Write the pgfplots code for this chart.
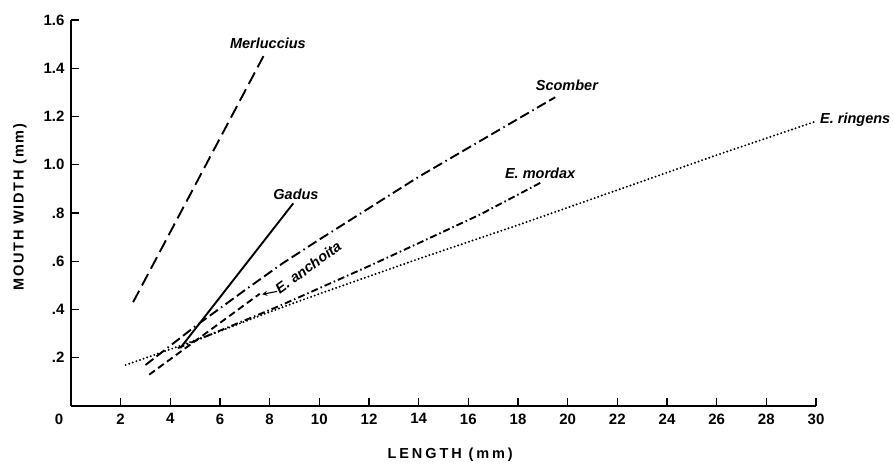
\documentclass[border=0pt]{standalone}
\usepackage{fontspec}
\setmainfont{Liberation Sans}
\newfontfamily\xlabelfont[LetterSpace=20]{Liberation Sans}
\newfontfamily\ylabelfont[LetterSpace=12]{Liberation Sans}
\usepackage{pgfplots}
\pgfplotsset{compat=1.18}
\usetikzlibrary{arrows.meta}

\newcommand\species{\fontsize{14.5}{17}\selectfont\bfseries\itshape}

\begin{document}
\begin{tikzpicture}
\useasboundingbox (-71pt,-57pt) rectangle (822pt,406pt);
\begin{axis}[
  scale only axis, width=745pt, height=386pt,
  xmin=0, xmax=30, ymin=0, ymax=1.6,
  axis lines*=left,
  axis line style={line width=1.8pt, black},
  clip=false,
  tick align=inside,
  major tick length=8pt,
  tick style={line width=1.2pt, black},
  xtick={2,4,...,30},
  xticklabels={2,4,6,8,10,12,14,16,18,20,22,24,26,28,30},
  extra x ticks={0},
  extra x tick labels={0},
  extra x tick style={major tick length=0pt, xticklabel style={xshift=-12pt}},
  ytick={0.2,0.4,0.6,0.8,1.0,1.2,1.4,1.6},
  yticklabels={.2,.4,.6,.8,1.0,1.2,1.4,1.6},
  ticklabel style={font=\fontsize{15}{17}\selectfont\bfseries},
  xticklabel style={yshift=-4pt},
  yticklabel style={xshift=-3pt},
  xlabel={LENGTH (mm)},
  ylabel={MOUTH WIDTH (mm)},
  xlabel style={at={(axis description cs:0.509,-0.127)}, anchor=center,
    font=\xlabelfont\bfseries\fontsize{14.5}{16}\selectfont},
  ylabel style={at={(axis description cs:-0.0685,0.5155)}, anchor=center,
    font=\ylabelfont\bfseries\fontsize{14.5}{16}\selectfont},
  every axis plot/.append style={black, line width=1.9pt, no marks},
]
% Merluccius
\addplot[dash pattern=on 13pt off 6pt] coordinates {(2.5,0.43) (7.75,1.45)};
% Gadus
\addplot[solid] coordinates {(4.4,0.24) (8.95,0.84)};
% Scomber
\addplot[dash pattern=on 10pt off 4pt on 10pt off 4pt on 1.5pt off 4pt] coordinates {
  (3.0,0.17) (5,0.33) (7,0.48) (8.5,0.59) (10,0.69) (12,0.82) (14,0.95) (16,1.07) (18,1.19) (19.5,1.28)};
% E. anchoita
\addplot[dash pattern=on 7pt off 4pt] coordinates {(3.15,0.13) (7.6,0.465)};
% E. mordax
\addplot[dash pattern=on 7pt off 3pt on 1.5pt off 3pt] coordinates {
  (4.3,0.24) (8.4,0.415) (12,0.58) (14,0.675) (16.5,0.795) (18.9,0.925)};
% E. ringens
\addplot[line width=2.2pt, line cap=round, dash pattern=on 0pt off 3.8pt] coordinates {
  (2.2,0.17) (4,0.235) (6,0.31) (8,0.39) (10,0.465) (14,0.61) (18,0.75) (22,0.895) (26,1.04) (30,1.18)};

\node[font=\species] at (axis cs:7.93,1.505) {Merluccius};
\node[font=\species] at (axis cs:9.06,0.879) {Gadus};
\node[font=\species] at (axis cs:19.97,1.331) {Scomber};
\node[font=\species] at (axis cs:18.89,0.966) {E. mordax};
\node[font=\species, anchor=west, inner sep=0pt] at (axis cs:30.16,1.186) {E. ringens};
\node[font=\species, rotate=36, inner sep=0pt] at (axis cs:9.55,0.575) {E. anchoita};
\draw[-{Stealth[length=5pt,width=5pt]}, line width=1.1pt] (axis cs:8.3,0.475) -- (axis cs:7.7,0.463);
\end{axis}
\end{tikzpicture}
\end{document}
